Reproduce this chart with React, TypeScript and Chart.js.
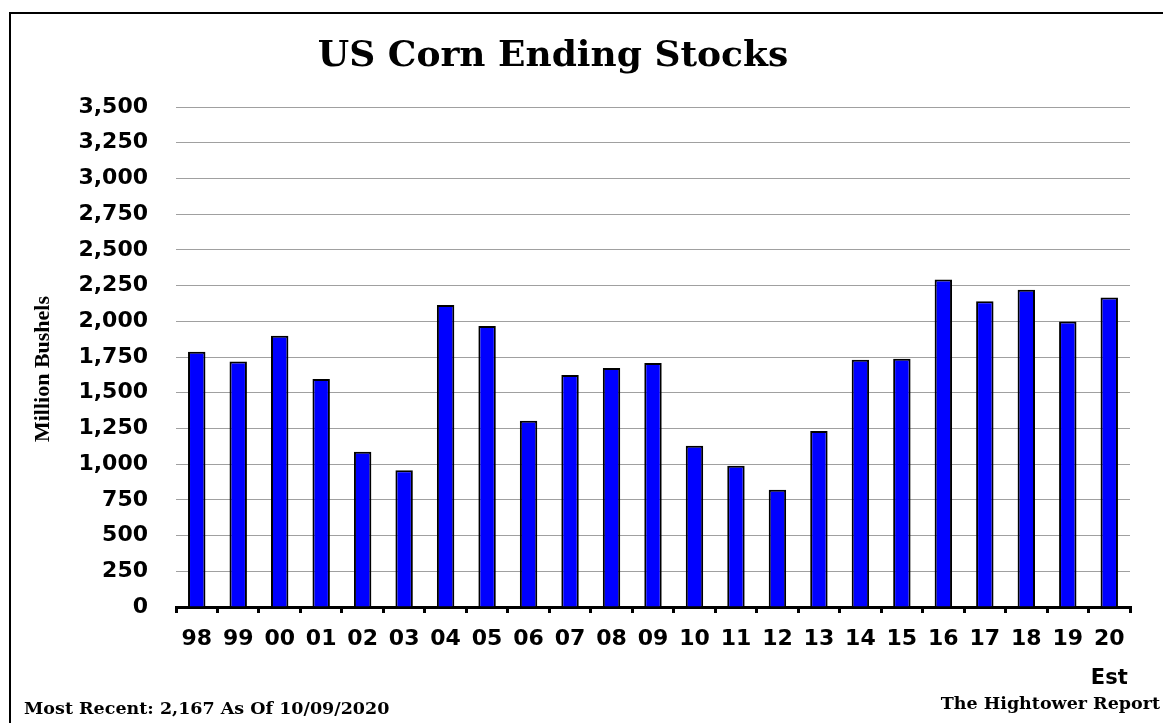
import React, { useEffect, useRef } from "react";
import { Chart, registerables } from "chart.js";

Chart.register(...registerables);

const categories = ["98", "99", "00", "01", "02", "03", "04", "05", "06", "07", "08", "09", "10", "11", "12", "13", "14", "15", "16", "17", "18", "19", "20"];
const endingStocks = [1787, 1718, 1899, 1596, 1087, 958, 2114, 1967, 1304, 1624, 1673, 1708, 1128, 989, 821, 1232, 1731, 1737, 2293, 2140, 2221, 1998, 2167];
const yTickMin = 0;
const yTickMax = 3500;
const yTickStep = 250;
const chartTitle = "US Corn Ending Stocks";
const yAxisTitle = "Million Bushels";
const footerLeft = "Most Recent: 2,167 As Of 10/09/2020";
const footerRight = "The Hightower Report";
const estLabel = "Est";

const W = 1163;
const H = 723;

const decorPlugin = {
  id: "decor",
  afterDraw(chart: any) {
    const ctx = chart.ctx;
    ctx.save();
    // frame
    ctx.strokeStyle = "#000";
    ctx.lineWidth = 2;
    ctx.beginPath();
    ctx.moveTo(10, H + 5);
    ctx.lineTo(10, 13);
    ctx.lineTo(W + 5, 13);
    ctx.stroke();

    // title
    ctx.fillStyle = "#000";
    ctx.textAlign = "center";
    ctx.textBaseline = "middle";
    ctx.font = "bold 36px 'DejaVu Serif'";
    ctx.fillText(chartTitle, 553, 57);

    // y axis title
    ctx.save();
    ctx.translate(43, 369);
    ctx.rotate(-Math.PI / 2);
    ctx.font = "bold 22px 'Liberation Serif'";
    ctx.fillText(yAxisTitle, 0, 0);
    ctx.restore();

    // Est
    const xs = chart.scales.x;
    const lastX = xs.getPixelForValue(categories.length - 1);
    ctx.font = "bold 21px 'DejaVu Sans'";
    ctx.textAlign = "center";
    ctx.fillText(estLabel, lastX, 679);

    // footers
    ctx.font = "bold 17.5px 'DejaVu Serif'";
    ctx.textAlign = "left";
    ctx.fillText(footerLeft, 24, 709);
    ctx.textAlign = "right";
    ctx.fillText(footerRight, 1160, 704);
    ctx.restore();
  },
};

export default function App() {
  const ref = useRef<HTMLCanvasElement | null>(null);

  useEffect(() => {
    if (!ref.current) return;
    const chart = new Chart(ref.current, {
      type: "bar",
      data: {
        labels: categories,
        datasets: [
          {
            data: endingStocks,
            backgroundColor: "#0000FF",
            borderColor: "#000000",
            borderWidth: 2,
            barPercentage: 0.42,
            categoryPercentage: 1,
          },
        ],
      },
      options: {
        animation: false,
        responsive: true,
        maintainAspectRatio: false,
        devicePixelRatio: 1,
        layout: { padding: { left: 0, right: 33, top: 107, bottom: 0 } },
        plugins: {
          legend: { display: false },
          tooltip: { enabled: false },
          title: { display: false },
        },
        scales: {
          x: {
            offset: true,
            grid: {
              offset: true,
              drawOnChartArea: false,
              drawTicks: true,
              tickLength: 6,
              color: "#000",
              lineWidth: 3,
            },
            border: { display: true, color: "#000", width: 3 },
            ticks: {
              color: "#000",
              font: { family: "'DejaVu Sans'", size: 22, weight: "bold" },
              padding: 13,
              maxRotation: 0,
              autoSkip: false,
            },
            afterFit(scale: any) {
              scale.height = 116;
            },
          },
          y: {
            min: yTickMin,
            max: yTickMax,
            grid: {
              drawTicks: false,
              color: "#a0a0a0",
              lineWidth: 1,
            },
            border: { display: false },
            ticks: {
              stepSize: yTickStep,
              color: "#000",
              padding: 28,
              font: { family: "'DejaVu Sans'", size: 22, weight: "bold" },
              callback: (v: any) => Number(v).toLocaleString("en-US"),
            },
            afterFit(scale: any) {
              scale.width = 176;
            },
          },
        },
      },
      plugins: [decorPlugin],
    });
    return () => chart.destroy();
  }, []);

  return (
    <div style={{ position: "fixed", left: 0, top: 0, width: W, height: H, background: "#fff" }}>
      <canvas ref={ref} />
    </div>
  );
}
